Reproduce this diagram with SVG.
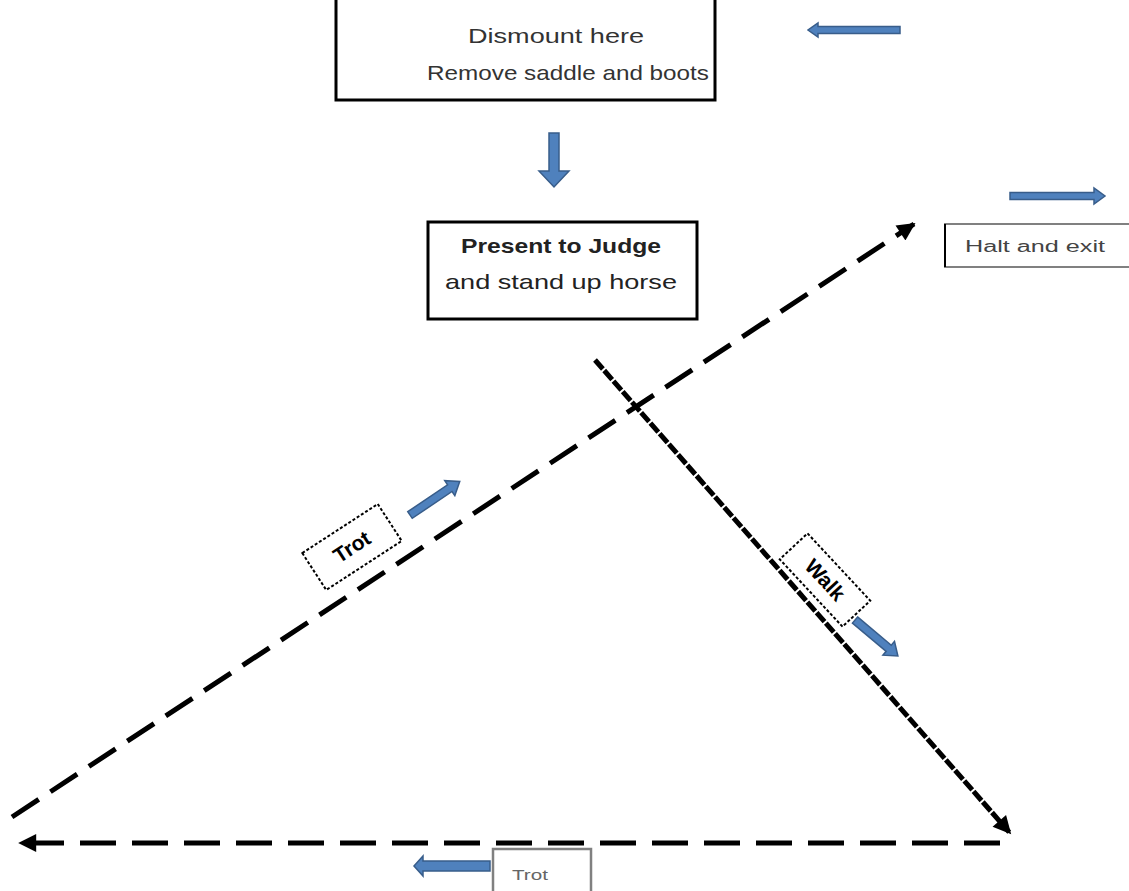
<svg xmlns="http://www.w3.org/2000/svg" width="1129" height="891" viewBox="0 0 1129 891">
<defs>
<style>
.box{fill:#fff;stroke:#000;stroke-width:3}
.txt{font-family:"Liberation Sans",Arial,sans-serif;fill:#333;text-anchor:middle}
.blue{fill:#4f81bd;stroke:#385d8a;stroke-width:1.5}
.dash{fill:none;stroke:#000;stroke-width:5}
.lbl{fill:#fff;stroke:#000;stroke-width:2;stroke-dasharray:3 2}
.gray{fill:#fff;stroke:#808080;stroke-width:2.5}
</style>
<marker id="ah" markerUnits="userSpaceOnUse" viewBox="0 0 20 20" markerWidth="20" markerHeight="18" refX="18" refY="10" orient="auto">
<path d="M0,0 L20,10 L0,20 z" fill="#000"/>
</marker>
</defs>
<rect width="1129" height="891" fill="#fff"/>

<g id="connectors">
<path class="dash" d="M12,817 L914,224" stroke-dasharray="32 14" marker-end="url(#ah)"/>
<path class="dash" d="M1000,843 L20,843" stroke-dasharray="36 16" marker-end="url(#ah)"/>
<path class="dash" d="M595,360 L1010,833" stroke-width="5.5" stroke-dasharray="12 2" marker-end="url(#ah)"/>
</g>

<g id="dismount">
<path class="box" d="M336,-5 V100 H715 V-5"/>
<text class="txt" x="556" y="43" font-size="21" textLength="176" lengthAdjust="spacingAndGlyphs">Dismount here</text>
<text class="txt" x="568" y="80" font-size="21" textLength="282" lengthAdjust="spacingAndGlyphs">Remove saddle and boots</text>
</g>

<g id="arrow-top-left">
<path class="blue" d="M900,26.5 H818 V23 L808,30 L818,37 V33.5 H900 Z"/>
</g>

<g id="arrow-down">
<path class="blue" d="M549,133 H559 V171 H569 L554,187 L539,171 H549 Z"/>
</g>

<g id="present">
<rect class="box" x="428" y="222" width="269" height="97"/>
<text class="txt" x="561" y="253" font-size="21" font-weight="bold" textLength="200" lengthAdjust="spacingAndGlyphs" style="fill:#222">Present to Judge</text>
<text class="txt" x="561" y="289" font-size="21" textLength="232" lengthAdjust="spacingAndGlyphs" style="fill:#222">and stand up horse</text>
</g>

<g id="arrow-right">
<path class="blue" d="M1010,192.5 H1094 V188 L1105,196 L1094,204 V199.5 H1010 Z"/>
</g>

<g id="halt">
<path d="M1129,224 H945 V267 H1129" fill="#fff" stroke="#808080" stroke-width="2"/>
<path d="M945,224 V267" stroke="#000" stroke-width="2"/>
<text x="965" y="252" font-family="Liberation Sans,Arial,sans-serif" font-size="16" fill="#444" textLength="140" lengthAdjust="spacingAndGlyphs">Halt and exit</text>
</g>

<g id="trot-label" transform="translate(352,547) rotate(-33)">
<rect class="lbl" x="-45" y="-22" width="90" height="44"/>
<text class="txt" x="0" y="7" font-size="21" font-weight="bold" style="fill:#000">Trot</text>
</g>

<g id="arrow-trot" transform="translate(410,515) rotate(-34)">
<path class="blue" d="M0,-4 H48 V-9 L60,0 L48,9 V4 H0 Z"/>
</g>

<g id="walk-label" transform="translate(825,580) rotate(47)">
<rect class="lbl" x="-46" y="-19" width="92" height="38"/>
<text class="txt" x="0" y="7" font-size="21" font-weight="bold" style="fill:#000">Walk</text>
</g>

<g id="arrow-walk" transform="translate(855,620) rotate(40)">
<path class="blue" d="M0,-4 H44 V-9 L56,0 L44,9 V4 H0 Z"/>
</g>

<g id="arrow-bottom">
<path class="blue" d="M490,861 H423 V856 L414,866 L423,876 V871 H490 Z"/>
</g>

<g id="trot-bottom">
<path class="gray" d="M493,895 V849 H591 V895"/>
<text x="512" y="880" font-family="Liberation Sans,Arial,sans-serif" font-size="15" fill="#666" textLength="36" lengthAdjust="spacingAndGlyphs">Trot</text>
</g>
</svg>
